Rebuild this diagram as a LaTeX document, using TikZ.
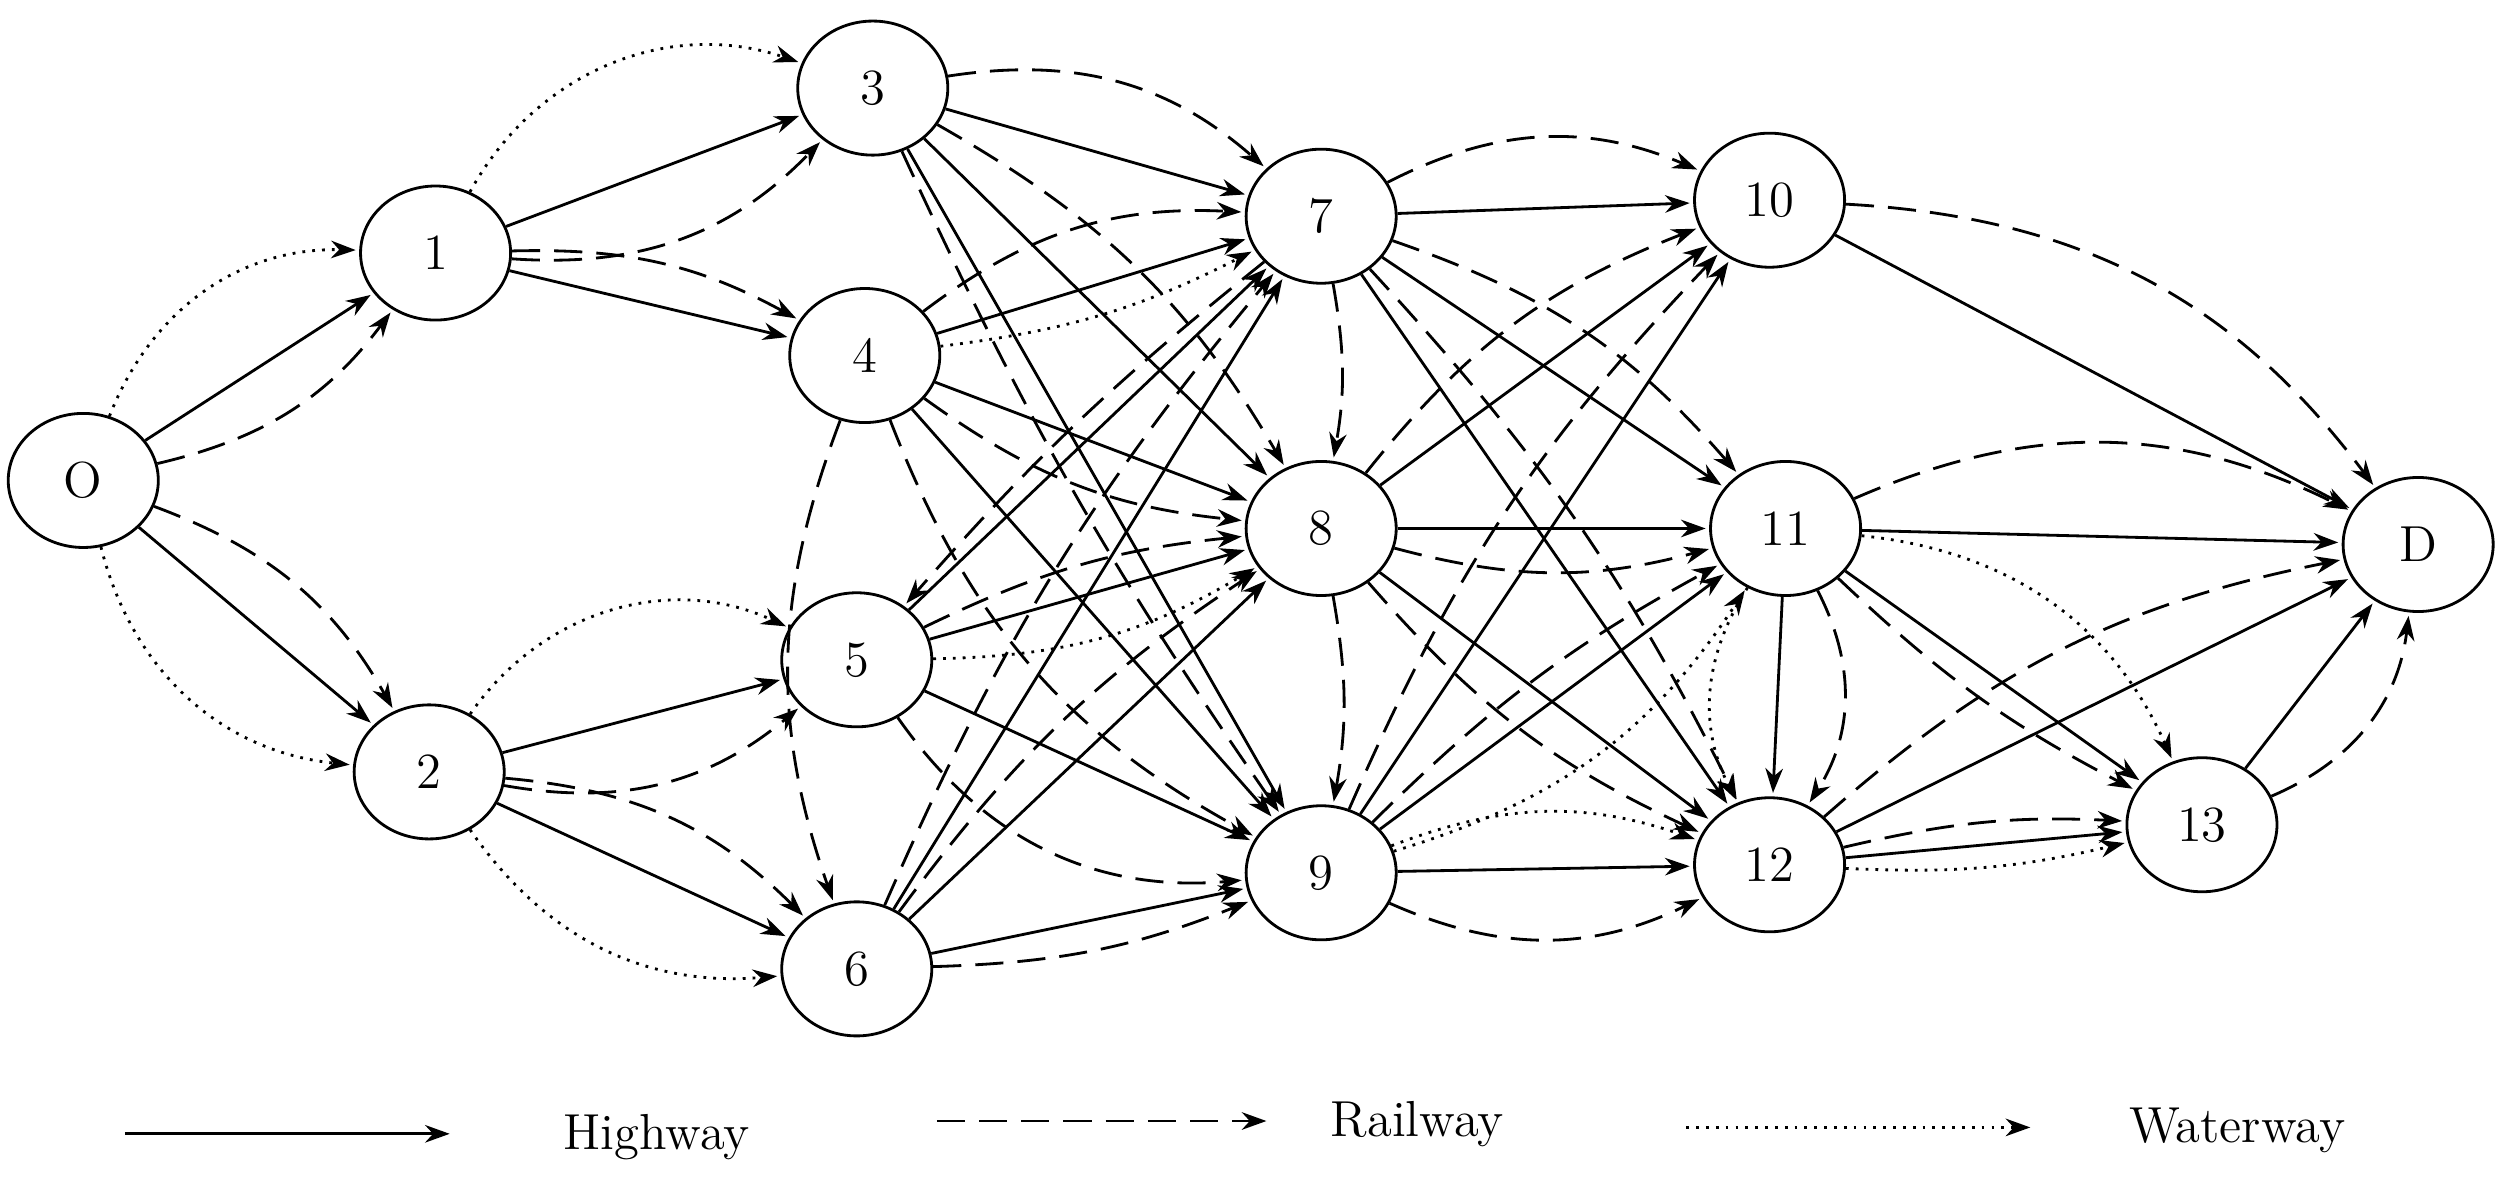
\documentclass[tikz,border=0pt]{standalone}
\usetikzlibrary{arrows.meta,shapes.geometric}
\begin{document}
\begin{tikzpicture}[x=0.016014cm,y=-0.016014cm,
  nd/.style={draw,thick,ellipse,minimum width=1.5cm,minimum height=1.34cm,font=\Large,fill=white},
  e/.style={thick,-{Stealth[length=7pt,width=5pt]},shorten >=1pt},
  hw/.style={e},
  rw/.style={e,dash pattern=on 8pt off 4pt},
  ww/.style={e,dotted}]
\useasboundingbox (0,0) rectangle (1568,737);
\node[nd] (O) at (52,300) {O};
\node[nd] (1) at (272,158) {1};
\node[nd] (2) at (268,482) {2};
\node[nd] (3) at (545,55) {3};
\node[nd] (4) at (540,222) {4};
\node[nd] (5) at (535,412) {5};
\node[nd] (6) at (535,605) {6};
\node[nd] (7) at (825,135) {7};
\node[nd] (8) at (825,330) {8};
\node[nd] (9) at (825,545) {9};
\node[nd] (10) at (1105,125) {10};
\node[nd] (11) at (1115,330) {11};
\node[nd] (12) at (1105,540) {12};
\node[nd] (13) at (1375,515) {13};
\node[nd] (D) at (1510,340) {D};
% O
\draw[hw] (O) -- (1); \draw[rw] (O) to[bend right=20] (1); \draw[ww] (O) to[bend left=35] (1);
\draw[hw] (O) -- (2); \draw[rw] (O) to[bend left=20] (2); \draw[ww] (O) to[bend right=35] (2);
% 1,2
\draw[hw] (1) -- (3); \draw[rw] (1) to[bend right=25] (3); \draw[ww] (1) to[bend left=40] (3);
\draw[hw] (1) -- (4); \draw[rw] (1) to[bend left=15] (4);
\draw[hw] (2) -- (5); \draw[rw] (2) to[bend right=25] (5); \draw[ww] (2) to[bend left=40] (5);
\draw[hw] (2) -- (6); \draw[rw] (2) to[bend left=20] (6); \draw[ww] (2) to[bend right=30] (6);
% 3
\draw[hw] (3) -- (7); \draw[rw] (3) to[bend left=25] (7);
\draw[hw] (3) -- (8); \draw[rw] (3) to[bend left=15] (8);
\draw[hw] (3) -- (9); \draw[rw] (3) to[bend right=5] (9);
% 4
\draw[hw] (4) -- (7); \draw[rw] (4) to[bend left=20] (7); \draw[ww] (4) to[bend right=10] (7);
\draw[hw] (4) -- (8); \draw[rw] (4) to[bend right=15] (8);
\draw[hw] (4) -- (9); \draw[rw] (4) to[bend right=20] (9);
\draw[rw] (4) to[bend right=20] (6);
% 5
\draw[hw] (5) -- (7); \draw[rw] (7) to[bend right=5] (5);
\draw[hw] (5) -- (8); \draw[rw] (5) to[bend left=10] (8); \draw[ww] (5) to[bend right=15] (8);
\draw[hw] (5) -- (9); \draw[rw] (5) to[bend right=30] (9);
% 6
\draw[hw] (6) -- (7); \draw[rw] (6) to[bend left=8] (7);
\draw[hw] (6) -- (8); \draw[rw] (6) to[bend left=10] (8);
\draw[hw] (6) -- (9); \draw[rw] (6) to[bend right=10] (9);
% 7,8,9
\draw[rw] (7) to[bend left=10] (8); \draw[rw] (8) to[bend left=10] (9);
\draw[hw] (7) -- (10); \draw[rw] (7) to[bend left=25] (10);
\draw[hw] (7) -- (11); \draw[rw] (7) to[bend left=15] (11);
\draw[hw] (7) -- (12); \draw[rw] (7) to[bend left=8] (12);
\draw[hw] (8) -- (10); \draw[rw] (8) to[bend left=15] (10);
\draw[hw] (8) -- (11); \draw[rw] (8) to[bend right=15] (11);
\draw[hw] (8) -- (12); \draw[rw] (8) to[bend right=12] (12);
\draw[hw] (9) -- (10); \draw[rw] (9) to[bend left=10] (10);
\draw[hw] (9) -- (11); \draw[rw] (9) to[bend left=8] (11); \draw[ww] (9) to[bend right=20] (11);
\draw[hw] (9) -- (12); \draw[rw] (9) to[bend right=25] (12); \draw[ww] (9) to[bend left=20] (12);
% 10..13
\draw[hw] (10) -- (D); \draw[rw] (10) to[bend left=25] (D);
\draw[hw] (11) -- (D); \draw[rw] (11) to[bend left=25] (D);
\draw[hw] (11) -- (12); \draw[rw] (11) to[bend left=30] (12); \draw[ww] (11) to[bend right=30] (12);
\draw[hw] (11) -- (13); \draw[rw] (11) to[bend right=8] (13); \draw[ww] (11) to[bend left=30] (13);
\draw[hw] (12) -- (D); \draw[rw] (12) to[bend left=15] (D);
\draw[hw] (12) -- (13); \draw[rw] (12) to[bend left=8] (13); \draw[ww] (12) to[bend right=8] (13);
\draw[hw] (13) -- (D); \draw[rw] (13) to[bend right=30] (D);
% legend
\coordinate (a1) at (78,708); \coordinate (a2) at (283,708);
\coordinate (b1) at (585,700); \coordinate (b2) at (793,700);
\coordinate (c1) at (1053,704); \coordinate (c2) at (1270,704);
\draw[hw] (a1) -- (a2); \node[font=\Large] (lh) at (410,710) {Highway};
\draw[rw] (b1) -- (b2); \node[font=\Large] (lr) at (885,702) {Railway};
\draw[ww] (c1) -- (c2); \node[font=\Large] (lw) at (1397,706) {Waterway};
\end{tikzpicture}
\end{document}
